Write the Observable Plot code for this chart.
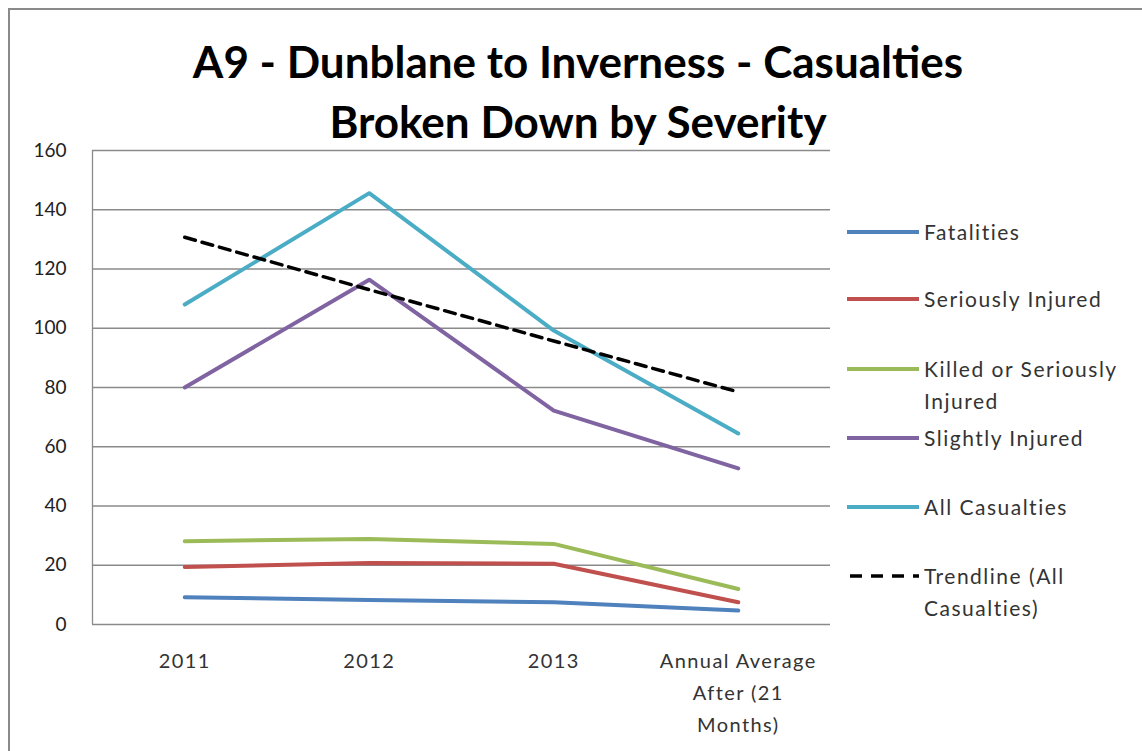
<!DOCTYPE html>
<html>
<head>
<meta charset="utf-8">
<script src="https://cdn.jsdelivr.net/npm/d3@7"></script>
<script src="https://cdn.jsdelivr.net/npm/@observablehq/plot@0.6"></script>
<style>
  html, body { margin: 0; padding: 0; background: #fff; }
  #frame { position: absolute; left: 8px; top: 8px; width: 1200px; height: 800px;
           border-top: 2px solid #8a8a8a; border-left: 2px solid #8a8a8a; }
  #title { position: absolute; left: 0; width: 1156px; top: 31px; text-align: center;
           font-family: Lato, sans-serif; font-weight: bold; font-size: 44px; line-height: 60px; color: #000; }
  #chart { position: absolute; left: 0; top: 130px; }
  #chart [aria-label="x-axis tick label"] { letter-spacing: 1.4px; }
  #legend { position: absolute; left: 846px; top: 0; font-family: Lato, sans-serif; font-size: 21px; letter-spacing: 1.5px; color: #333; }
  .item { position: absolute; left: 0; white-space: nowrap; line-height: 32px; }
  .item svg { position: absolute; left: 0; top: 0; }
  .item span { position: absolute; left: 78px; top: 0; }
</style>
</head>
<body>
<div id="frame"></div>
<div id="title">A9 - Dunblane to Inverness - Casualties<br>Broken Down by Severity</div>
<div id="chart"></div>
<div id="legend"></div>
<script>
const categories = ["2011", "2012", "2013", "Annual Average\nAfter (21\nMonths)"];
const seriesNames = ["Fatalities", "Seriously Injured", "Killed or Seriously Injured", "Slightly Injured", "All Casualties"];
const fatalities = [9.2, 8.3, 7.5, 4.7];
const seriouslyInjured = [19.4, 20.8, 20.5, 7.5];
const killedOrSeriouslyInjured = [28.1, 28.9, 27.2, 12];
const slightlyInjured = [80, 116.4, 72.2, 52.7];
const allCasualties = [108, 145.6, 99.2, 64.5];
const trendline = [130.7, 113, 95.7, 78.5];
const yTicks = [0, 20, 40, 60, 80, 100, 120, 140, 160];
const colors = ["#4F81BD", "#C0504D", "#9BBB59", "#8064A2", "#4BACC6"];
const legendLabels = ["Fatalities", "Seriously Injured", "Killed or Seriously\nInjured", "Slightly Injured", "All Casualties", "Trendline (All\nCasualties)"];

const seriesValues = [fatalities, seriouslyInjured, killedOrSeriouslyInjured, slightlyInjured, allCasualties];
const rows = [];
seriesNames.forEach((s, i) => categories.forEach((c, j) => rows.push({series: s, idx: j, value: seriesValues[i][j]})));
const trendRows = categories.map((c, j) => ({idx: j, value: trendline[j]}));
const catIndex = categories.map((c, j) => j);

const plot = Plot.plot({
  width: 850,
  height: 619,
  marginTop: 20,
  marginLeft: 92,
  marginRight: 20,
  marginBottom: 125,
  style: {fontFamily: "Lato, sans-serif", background: "transparent"},
  x: {type: "linear", domain: [-0.5, categories.length - 0.5], label: null},
  y: {domain: [0, 160], label: null},
  color: {domain: seriesNames, range: colors},
  marks: [
    Plot.ruleY(yTicks, {stroke: "#8a8a8a", strokeWidth: 1.3, strokeOpacity: 1}),
    Plot.ruleX([-0.5], {stroke: "#8a8a8a", strokeWidth: 1.3, strokeOpacity: 1}),
    Plot.axisY({ticks: yTicks, tickSize: 0, tickPadding: 26, fontSize: 19, fill: "#222", label: null}),
    Plot.axisX({ticks: catIndex, tickFormat: i => categories[i], tickSize: 0, tickPadding: 21, fontSize: 20, fill: "#333", lineHeight: 1.6, label: null}),
    Plot.line(rows, {x: "idx", y: "value", z: "series", stroke: "series", strokeWidth: 4, strokeLinejoin: "round"}),
    Plot.line(trendRows, {x: "idx", y: "value", stroke: "#000", strokeWidth: 3.5, strokeDasharray: "11,7"})
  ]
});
document.getElementById("chart").appendChild(plot);

const legend = document.getElementById("legend");
const itemTops = [216, 283, 353, 422, 491, 560];
const legendColors = [...colors, "#000"];
legendLabels.forEach((lab, i) => {
  const d = document.createElement("div");
  d.className = "item";
  d.style.top = itemTops[i] + "px";
  const dashed = i === 5;
  d.innerHTML = `<svg width="74" height="32"><line x1="1" x2="73" y1="16" y2="16" stroke="${legendColors[i]}" stroke-width="${dashed ? 3.5 : 4}" ${dashed ? 'stroke-dasharray="12,9" stroke-dashoffset="-3"' : ''}/></svg><span>${lab.replace("\n", "<br>")}</span>`;
  legend.appendChild(d);
});
</script>
</body>
</html>
